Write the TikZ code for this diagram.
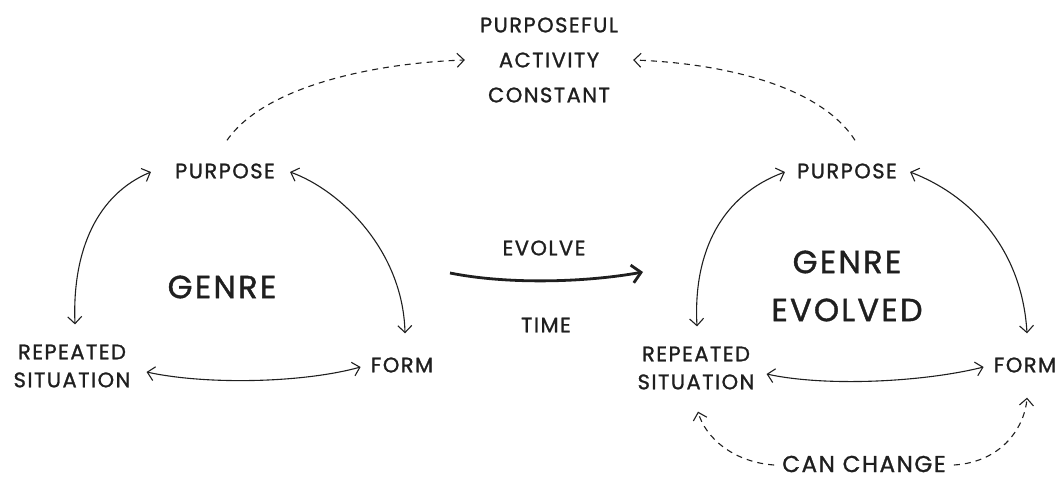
\documentclass[tikz,border=0pt]{standalone}
\usepackage{fontspec}
\setmainfont{Poppins}[LetterSpace=7, FakeBold=1.2]
\usetikzlibrary{arrows.meta}
\tikzset{
  lbl/.style={inner sep=0pt, font=\fontsize{21}{28}\selectfont, align=center, text=black!88},
  bigtitle/.style={inner sep=0pt, font=\fontsize{32}{48}\selectfont, align=center, text=black!88},
  link/.style={{Straight Barb[length=7pt,width=14pt]}-{Straight Barb[length=7pt,width=14pt]}, line width=1.1pt, draw=black!88},
  hint/.style={-{Straight Barb[length=7pt,width=14pt]}, line width=1.1pt, draw=black!88, dash pattern=on 6pt off 5pt},
  evolvearrow/.style={-{Straight Barb[length=9pt,width=18pt]}, line width=2.8pt, draw=black!88}
}

\begin{document}
\begin{tikzpicture}[x=1pt, y=-1pt]
  \useasboundingbox (0,0) rectangle (1062,481);
  % left genre
  \node[lbl] (lpurp) at (225,171) {PURPOSE};
  \node[bigtitle] (lgenre) at (222,287) {GENRE};
  \node[lbl] (lrep) at (72,366) {REPEATED\\SITUATION};
  \node[lbl] (lform) at (402,365) {FORM};
  \draw[link] ([xshift=-24pt,yshift=-1pt]lpurp.west) .. controls +(-53,22) and +(-3,-75) .. ([xshift=3pt,yshift=20pt]lrep.north);
  \draw[link] ([xshift=15pt,yshift=-1pt]lpurp.east) .. controls +(50,18) and +(-2,-83) .. ([xshift=3pt,yshift=24pt]lform.north);
  \draw[link] ([xshift=16pt,yshift=-6pt]lrep.east) .. controls +(60,13) and +(-58,16) .. ([xshift=-10pt,yshift=-2pt]lform.west);
  % middle
  \node[lbl] (top) at (549,60) {PURPOSEFUL\\[7pt]ACTIVITY\\[7pt]CONSTANT};
  \node[lbl] (evolvelbl) at (544,248) {EVOLVE};
  \node[lbl] (timelbl) at (546,325) {TIME};
  \coordinate (evstart) at (450,273);
  \coordinate (evend) at (643,272);
  \draw[evolvearrow] (evstart) .. controls +(60,12) and +(-55,10) .. (evend);
  % right genre
  \node[lbl] (rpurp) at (847,171) {PURPOSE};
  \node[bigtitle] (rgenre) at (847,286) {GENRE\\EVOLVED};
  \node[lbl] (rrep) at (696,368) {REPEATED\\SITUATION};
  \node[lbl] (rform) at (1025,365) {FORM};
  \node[lbl, font=\fontsize{23}{28}\selectfont] (change) at (864,464) {CAN CHANGE};
  \draw[link] ([xshift=-12pt,yshift=-1pt]rpurp.west) .. controls +(-63,23) and +(-4,-75) .. ([xshift=1pt,yshift=20pt]rrep.north);
  \draw[link] ([xshift=13pt,yshift=-1pt]rpurp.east) .. controls +(60,23) and +(-5,-85) .. ([xshift=2pt,yshift=24pt]rform.north);
  \draw[link] ([xshift=12pt,yshift=-6pt]rrep.east) .. controls +(60,13) and +(-60,15) .. ([xshift=-10pt,yshift=-2pt]rform.west);
  \draw[hint] ([xshift=-8pt,yshift=-1pt]change.west) .. controls +(-42,-3) and +(7,25) .. ([xshift=2pt,yshift=-22pt]rrep.south);
  \draw[hint] ([xshift=8pt,yshift=-1pt]change.east) .. controls +(49,-3) and +(-2,28) .. ([xshift=2pt,yshift=-25pt]rform.south);
  % constant purpose
  \draw[hint] ([xshift=2pt,yshift=23pt]lpurp.north) .. controls +(38,-55) and +(-88,3) .. ([xshift=-15pt]top.west);
  \draw[hint] ([xshift=8pt,yshift=23pt]rpurp.north) .. controls +(-35,-55) and +(88,3) .. ([xshift=15pt]top.east);
\end{tikzpicture}
\end{document}
